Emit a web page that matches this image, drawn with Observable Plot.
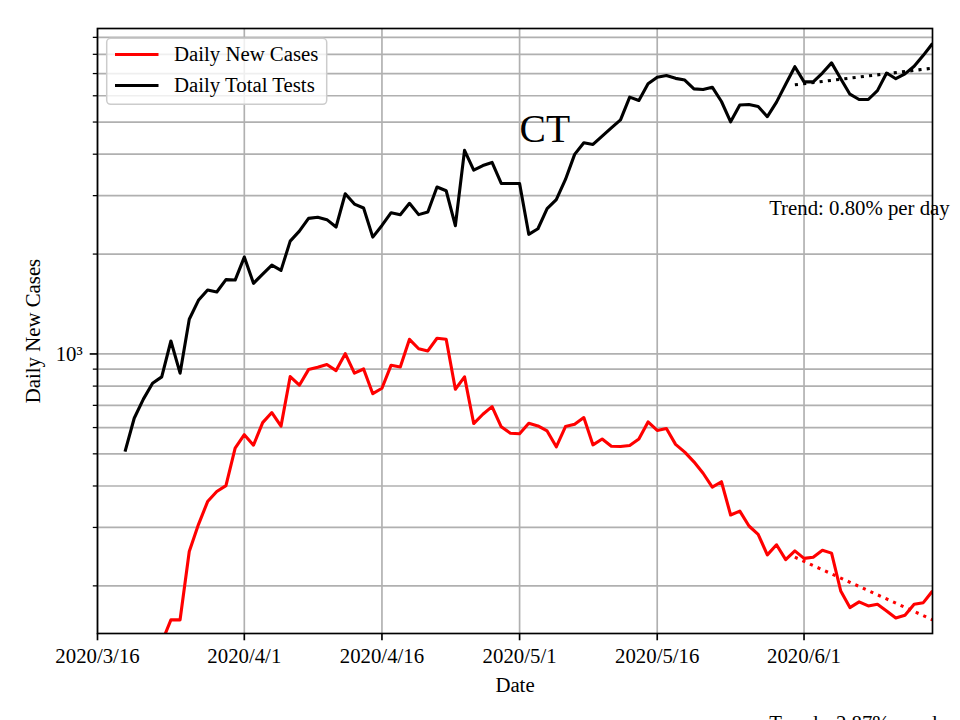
<!DOCTYPE html>
<html><head><meta charset="utf-8">
<script src="https://cdn.jsdelivr.net/npm/d3@7"></script>
<script src="https://cdn.jsdelivr.net/npm/@observablehq/plot@0.6"></script>
<style>body{margin:0;background:#fff}</style>
</head><body><div id="chart"></div>
<script>
// ---- data ----
const startDate = "2020/3/16";
const endDate = "2020/6/15";
const newCases = [12, 22, 30, 48, 68, 90, 105, 135, 158, 158,
  254, 306, 359, 385, 401, 520, 571, 531, 621, 666,
  606, 855, 805, 897, 912, 929, 891, 1002, 875, 901,
  759, 788, 925, 914, 1107, 1037, 1021, 1115, 1107, 783,
  853, 617, 658, 694, 603, 577, 575, 618, 607, 586,
  525, 604, 614, 643, 532, 554, 527, 526, 530, 554,
  624, 588, 596, 534, 506, 473, 437, 397, 412, 327,
  336, 303, 286, 248, 266, 240, 255, 242, 244, 256,
  251, 193, 172, 179, 174, 176, 168, 160, 163, 176,
  178, 193];
const totalTests = [null, null, null, 508, 640, 731, 816, 853, 1094, 875,
  1272, 1451, 1559, 1537, 1675, 1670, 1959, 1633, 1741, 1853,
  1786, 2188, 2345, 2563, 2581, 2540, 2413, 3040, 2830, 2753,
  2250, 2440, 2665, 2628, 2844, 2630, 2678, 3185, 3104, 2435,
  4108, 3581, 3698, 3778, 3265, 3265, 3265, 2294, 2384, 2740,
  2917, 3357, 3996, 4330, 4281, 4536, 4804, 5078, 5943, 5807,
  6517, 6823, 6905, 6771, 6693, 6295, 6266, 6368, 5766, 5009,
  5628, 5650, 5572, 5190, 5740, 6500, 7340, 6607, 6607, 7025,
  7540, 6753, 6067, 5847, 5847, 6218, 7025, 6753, 6987, 7362,
  7943, 8627];
const trendDates = ["2020/5/31", "2020/6/15"];
const casesTrend = [244, 158];
const testsTrend = [6475, 7267];
const xTickLabels = ["2020/3/16", "2020/4/1", "2020/4/16", "2020/5/1", "2020/5/16", "2020/6/1"];
const yMajorTicks = [1000];
const yMinorTicks = [200, 300, 400, 500, 600, 700, 800, 900, 2000, 3000, 4000, 5000, 6000, 7000, 8000, 9000];
const seriesNames = ["Daily New Cases", "Daily Total Tests"];
const seriesColors = ["#ff0000", "#000000"];
const chartTitle = "CT";
const trendLabels = ["Trend: 0.80% per day", "Trend: -2.87% per day"];
const xLabel = "Date";
const yLabel = "Daily New Cases";

// ---- build ----
const parse = s => { const [y, m, d] = s.split("/").map(Number); return new Date(Date.UTC(y, m - 1, d)); };
const days = d3.utcDay.range(parse(startDate), d3.utcDay.offset(parse(endDate), 1));
const rows = days.map((date, i) => ({date, cases: newCases[i], tests: totalTests[i]}));
const trendRows = trendDates.map((s, i) => ({date: parse(s), cases: casesTrend[i], tests: testsTrend[i]}));
const xTicks = xTickLabels.map(parse);
const labelByTime = new Map(xTicks.map((d, i) => [+d, xTickLabels[i]]));

const FONT = "'Liberation Serif', 'Times New Roman', serif";
const FS = 20.8;
const LW = 3.1;
const GRID = {stroke: "#b0b0b0", strokeOpacity: 1, strokeWidth: 1.67};

const plot = Plot.plot({
  width: 960, height: 720,
  marginLeft: 97, marginRight: 28, marginTop: 28, marginBottom: 87,
  style: {fontFamily: FONT, fontSize: FS + "px", background: "white", color: "black"},
  x: {type: "utc", domain: [days[0], days[days.length - 1]]},
  y: {type: "log", domain: [143.7, 9570]},
  marks: [
    Plot.gridY(yMinorTicks.concat(yMajorTicks), GRID),
    Plot.gridX(xTicks, GRID),
    Plot.line(rows, {x: "date", y: "cases", stroke: seriesColors[0], strokeWidth: LW, strokeLinejoin: "round", strokeLinecap: "butt", clip: true}),
    Plot.line(rows, {x: "date", y: "tests", stroke: seriesColors[1], strokeWidth: LW, strokeLinejoin: "round", strokeLinecap: "butt", clip: true}),
    Plot.line(trendRows, {x: "date", y: "cases", stroke: seriesColors[0], strokeWidth: LW, strokeLinecap: "butt", strokeDasharray: "3.1,5.2", clip: true}),
    Plot.line(trendRows, {x: "date", y: "tests", stroke: seriesColors[1], strokeWidth: LW, strokeLinecap: "butt", strokeDasharray: "3.1,5.2", clip: true}),
    Plot.frame({stroke: "black", strokeWidth: 1.67}),
    Plot.axisX(xTicks, {tickSize: 7.3, tickPadding: 7.5, tickFormat: d => labelByTime.get(+d), label: null, fontSize: FS, strokeWidth: 1.67, stroke: "black"}),
    Plot.axisY(yMajorTicks, {tickSize: 7.3, tickPadding: 7.5, tickFormat: () => "10³", label: null, fontSize: FS, strokeWidth: 1.67, stroke: "black"}),
    Plot.axisY(yMinorTicks, {tickSize: 4.2, tickFormat: () => "", label: null, strokeWidth: 1.25, stroke: "black"}),
    Plot.text([chartTitle], {x: () => parse("2020/5/1"), y: () => 4360, text: d => d, textAnchor: "start", lineAnchor: "bottom", fontSize: 39.5, fill: "black"}),
    Plot.text([{label: trendLabels[0], v: 2622}, {label: trendLabels[1], v: 73.3}], {x: () => parse("2020/5/28"), y: "v", text: "label", dx: 1.8, textAnchor: "start", lineAnchor: "bottom", fontSize: FS, fill: "black"}),
    Plot.text([xLabel], {text: d => d, frameAnchor: "bottom", dy: 51.6, textAnchor: "middle", lineAnchor: "middle", fontSize: FS, fill: "black"}),
    Plot.text([yLabel], {text: d => d, frameAnchor: "left", dx: -64, rotate: -90, textAnchor: "middle", lineAnchor: "middle", fontSize: FS, fill: "black"})
  ]
});

// ---- legend (inside axes, upper left) ----
const svg = d3.select(plot);
const lg = svg.append("g").attr("font-family", FONT).attr("font-size", FS).attr("text-anchor", "start");
lg.append("rect").attr("x", 106.7).attr("y", 38.3).attr("width", 220).attr("height", 66).attr("rx", 4)
  .attr("fill", "white").attr("fill-opacity", 0.8).attr("stroke", "#cccccc").attr("stroke-width", 1.5);
seriesNames.forEach((name, i) => {
  const cy = 54.5 + i * 31;
  lg.append("line").attr("x1", 115).attr("x2", 158.5).attr("y1", cy).attr("y2", cy)
    .attr("stroke", seriesColors[i]).attr("stroke-width", LW);
  lg.append("text").attr("x", 174).attr("y", cy).attr("dy", "0.32em").attr("text-anchor", "start")
    .attr("fill", "black").text(name);
});

document.getElementById("chart").appendChild(plot);
</script>
</body></html>
